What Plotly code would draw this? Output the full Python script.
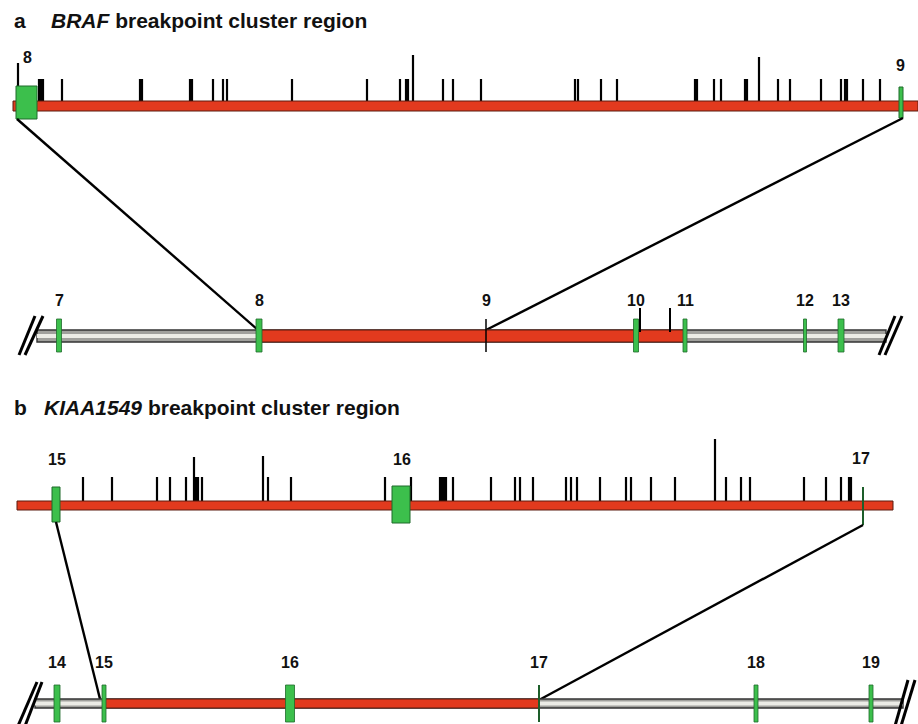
import plotly.graph_objects as go

# ---------------------------------------------------------------
# Diagram units: one unit along x == one pixel of the 918 x 724 canvas
# ---------------------------------------------------------------

# Panel a: BRAF intron between exon 8 and exon 9 (expanded view)
braf_break_short = [39, 41, 43, 62, 140, 142, 190, 192, 213, 223, 227, 292, 367,
                    400, 406, 408, 443, 453, 481, 575, 578, 601, 617, 695, 697,
                    714, 721, 745, 747, 778, 790, 821, 841, 845, 847, 863, 880]
braf_break_tall = [18, 413, 759]
braf_tall_height = [38, 46, 44]

# Panel a: BRAF exons 7-13 (overview)
braf_exons = ["7", "8", "9", "10", "11", "12", "13"]
braf_exon_pos = [59, 259, 486, 636, 685, 805, 841]
braf_exon_width = [5, 6, 0, 5, 4, 3, 6]
braf_extra_breaks = [640, 670]
braf_region = [258, 685]          # breakpoint cluster region (red)
braf_gene_span = [37, 886]

# Panel b: KIAA1549 intron region, exon 15 to exon 17 (expanded view)
kiaa_break_short = [83, 112, 157, 170, 186, 196, 198, 202, 268, 291, 385, 411,
                    440, 442, 444, 446, 453, 491, 515, 520, 533, 566, 571, 577,
                    600, 626, 631, 651, 675, 726, 741, 750, 804, 826, 841, 849, 851]
kiaa_break_tall = [194, 263, 715]
kiaa_tall_height = [44, 45, 62]

# Panel b: KIAA1549 exons 14-19 (overview)
kiaa_exons = ["14", "15", "16", "17", "18", "19"]
kiaa_exon_pos = [57, 104, 290, 539, 756, 871]
kiaa_exon_width = [6, 4, 9, 0, 4, 4]
kiaa_region = [104, 539]
kiaa_gene_span = [35, 903]

RED = "#e23a1e"
RED_EDGE = "#5b1a0e"
GREEN = "#3cbf4c"
GREEN_EDGE = "#1f6a2b"
DARK_GREEN = "#1d5e2a"

FONT = "Liberation Sans, Arial, sans-serif"

fig = go.Figure()
shapes = []
annotations = []


def rect(x0, x1, y0, y1, fill, edge, lw=1):
    shapes.append(dict(type="rect", xref="x", yref="y", x0=x0, x1=x1, y0=y0, y1=y1,
                       fillcolor=fill, line=dict(color=edge, width=lw), layer="above"))


def seg(x0, y0, x1, y1, color="black", width=2.4):
    shapes.append(dict(type="line", xref="x", yref="y", x0=x0, y0=y0, x1=x1, y1=y1,
                       line=dict(color=color, width=width), layer="above"))


def label(x, y, text, size=16):
    annotations.append(dict(x=x, y=y, xref="x", yref="y", text=f"<b>{text}</b>",
                            showarrow=False, font=dict(family=FONT, size=size, color="#111"),
                            xanchor="center", yanchor="middle"))


def breakpoints(short, tall, tall_h, base, short_h):
    xs, ys = [], []
    for p in short:
        xs += [p, p, None]
        ys += [base, base - short_h, None]
    for p, h in zip(tall, tall_h):
        xs += [p, p, None]
        ys += [base, base - h, None]
    fig.add_trace(go.Scatter(x=xs, y=ys, mode="lines", line=dict(color="black", width=2.2),
                             hoverinfo="skip", showlegend=False))


def grey_bar(x0, x1, y0, y1):
    rect(x0, x1, y0, y1, "#a0a09c", "#333333", 1.4)
    mid = (y0 + y1) / 2
    rect(x0, x1, mid - 2, mid + 2, "#ecece6", "rgba(0,0,0,0)", 0)


def slashes(pairs):
    for (x0, y0, x1, y1) in pairs:
        seg(x0, y0, x1, y1, "black", 3)


# ---------------- Panel a ----------------
annotations.append(dict(x=12, y=20, xref="x", yref="y", text="<b>a</b>", showarrow=False,
                        font=dict(family=FONT, size=21, color="#111"),
                        xanchor="left", yanchor="middle"))
annotations.append(dict(x=49, y=20, xref="x", yref="y",
                        text="<b><i>BRAF</i> breakpoint cluster region</b>", showarrow=False,
                        font=dict(family=FONT, size=21, color="#111"),
                        xanchor="left", yanchor="middle"))

# expanded intron track
rect(13, 918, 101, 111, RED, RED_EDGE, 1)
breakpoints(braf_break_short, braf_break_tall, braf_tall_height, 101, 22)
rect(16, 37, 86, 119, GREEN, GREEN_EDGE, 1)
rect(899, 903, 87, 118, GREEN, GREEN_EDGE, 1)
label(27, 57, "8")
label(900, 65, "9")

# zoom connectors
seg(17, 119, 258, 330)
seg(903, 118, 486, 330)

# gene overview track
grey_bar(braf_gene_span[0], braf_gene_span[1], 330, 342)
rect(braf_region[0], braf_region[1], 330, 342, RED, RED_EDGE, 1)
for p in braf_extra_breaks:
    seg(p, 308, p, 332, "black", 2)
for name, p, w in zip(braf_exons, braf_exon_pos, braf_exon_width):
    if w == 0:
        seg(p, 319, p, 352, "black", 1.5)
    else:
        rect(p - w / 2, p + w / 2, 319, 352, GREEN, GREEN_EDGE, 0.8)
    label(p, 300, name)
slashes([(19, 355, 35, 316), (25, 355, 43, 316),
         (879, 355, 895, 316), (885, 355, 902, 316)])

# ---------------- Panel b ----------------
annotations.append(dict(x=12, y=407, xref="x", yref="y", text="<b>b</b>", showarrow=False,
                        font=dict(family=FONT, size=21, color="#111"),
                        xanchor="left", yanchor="middle"))
annotations.append(dict(x=42, y=407, xref="x", yref="y",
                        text="<b><i>KIAA1549</i> breakpoint cluster region</b>", showarrow=False,
                        font=dict(family=FONT, size=21, color="#111"),
                        xanchor="left", yanchor="middle"))

rect(17, 893, 501, 510, RED, RED_EDGE, 1)
breakpoints(kiaa_break_short, kiaa_break_tall, kiaa_tall_height, 501, 24)
rect(52, 60, 487, 522, GREEN, GREEN_EDGE, 1)
rect(392, 410, 486, 523, GREEN, GREEN_EDGE, 1)
seg(863, 487, 863, 525, DARK_GREEN, 2)
label(57, 459, "15")
label(402, 459, "16")
label(861, 458, "17")

seg(56, 522, 100, 699)
seg(863, 525, 539, 700)

grey_bar(kiaa_gene_span[0], kiaa_gene_span[1], 699, 708)
rect(kiaa_region[0], kiaa_region[1], 699, 708, RED, RED_EDGE, 1)
for name, p, w in zip(kiaa_exons, kiaa_exon_pos, kiaa_exon_width):
    if w == 0:
        seg(p, 685, p, 722, DARK_GREEN, 2)
    else:
        rect(p - w / 2, p + w / 2, 685, 722, GREEN, GREEN_EDGE, 0.8)
    label(p, 662, name)
slashes([(18, 726, 37, 682), (25, 726, 42, 682),
         (895, 726, 908, 680), (901, 726, 915, 680)])

fig.update_layout(
    width=918, height=724,
    margin=dict(l=0, r=0, t=0, b=0),
    paper_bgcolor="white", plot_bgcolor="white",
    xaxis=dict(range=[0, 918], visible=False, fixedrange=True),
    yaxis=dict(range=[724, 0], visible=False, fixedrange=True),
    shapes=shapes, annotations=annotations, showlegend=False,
)

fig.write_html("out.html")
